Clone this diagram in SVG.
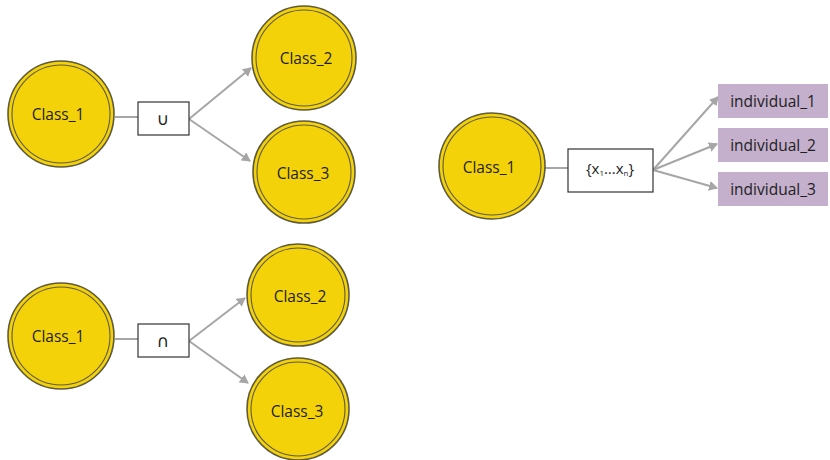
<svg xmlns="http://www.w3.org/2000/svg" width="830" height="460" viewBox="0 0 830 460">
<defs>
<style>
.cls{fill:#F4D20A;stroke:#5e5a3e;stroke-width:1.6}
.inner{fill:none;stroke:#5e5a3e;stroke-width:1.1}
.t{font-family:"Open Sans","Liberation Sans",sans-serif;font-size:15.5px;fill:#1e1e1e;text-anchor:middle;dominant-baseline:central}
.sym{font-family:"DejaVu Sans",sans-serif;font-size:17px;fill:#1e1e1e;text-anchor:middle;dominant-baseline:central}
.op{fill:#fff;stroke:#333;stroke-width:1.2}
.ind{fill:#C4B0CC}
.ln{stroke:#A6A6A6;stroke-width:2;fill:none}
.ar{stroke:#A6A6A6;stroke-width:2;fill:none;marker-end:url(#ah)}
</style>
<marker id="ah" markerWidth="10" markerHeight="10" refX="8" refY="5" orient="auto" markerUnits="userSpaceOnUse">
<path d="M0,0 L9,5 L0,10 Z" fill="#A6A6A6"/>
</marker>
</defs>
<rect width="830" height="460" fill="#fff"/>
<g id="connectors">
<line class="ln" x1="115" y1="117" x2="138" y2="117"/>
<path class="ar" d="M189,119 L251,68"/>
<path class="ar" d="M189,119 L250,161"/>
<line class="ln" x1="115" y1="339" x2="138" y2="339"/>
<path class="ar" d="M189,341 L245,298"/>
<path class="ar" d="M189,341 L248,383"/>
<line class="ln" x1="545" y1="168" x2="568" y2="168"/>
<path class="ar" d="M653,170 L718,97"/>
<path class="ar" d="M653,170 L717,144"/>
<path class="ar" d="M653,170 L717,188"/>
</g>
<g id="a_class1"><circle class="cls" cx="61" cy="114" r="53"/><circle class="inner" cx="61" cy="114" r="49"/><text class="t" x="58" y="114">Class_1</text></g>
<g id="a_union"><rect class="op" x="138" y="102" width="51" height="33"/><text class="sym" x="163" y="119">∪</text></g>
<g id="a_class2"><circle class="cls" cx="304" cy="58" r="52"/><circle class="inner" cx="304" cy="58" r="48"/><text class="t" x="306" y="58">Class_2</text></g>
<g id="a_class3"><circle class="cls" cx="304" cy="172" r="51"/><circle class="inner" cx="304" cy="172" r="47"/><text class="t" x="303" y="173">Class_3</text></g>
<g id="b_class1"><circle class="cls" cx="61" cy="336" r="53"/><circle class="inner" cx="61" cy="336" r="49"/><text class="t" x="58" y="336">Class_1</text></g>
<g id="b_inter"><rect class="op" x="138" y="324" width="51" height="33"/><text class="sym" x="163" y="341">∩</text></g>
<g id="b_class2"><circle class="cls" cx="298" cy="295" r="51"/><circle class="inner" cx="298" cy="295" r="47"/><text class="t" x="300" y="296">Class_2</text></g>
<g id="b_class3"><circle class="cls" cx="298" cy="409" r="51"/><circle class="inner" cx="298" cy="409" r="47"/><text class="t" x="297" y="411">Class_3</text></g>
<g id="c_class1"><circle class="cls" cx="492" cy="166" r="53"/><circle class="inner" cx="492" cy="166" r="49"/><text class="t" x="489" y="167">Class_1</text></g>
<g id="c_enum"><rect class="op" x="568" y="149" width="85" height="43"/><text class="t" x="610" y="168" style="font-size:15px">{x<tspan font-size="8" dy="4">1</tspan><tspan dy="-4">…x</tspan><tspan font-size="8" dy="4">n</tspan><tspan dy="-4">}</tspan></text></g>
<g id="ind1"><rect class="ind" x="718" y="84" width="110" height="34"/><text class="t" x="773" y="101">individual_1</text></g>
<g id="ind2"><rect class="ind" x="718" y="128" width="110" height="34"/><text class="t" x="773" y="145">individual_2</text></g>
<g id="ind3"><rect class="ind" x="718" y="172" width="110" height="34"/><text class="t" x="773" y="189">individual_3</text></g>
</svg>
